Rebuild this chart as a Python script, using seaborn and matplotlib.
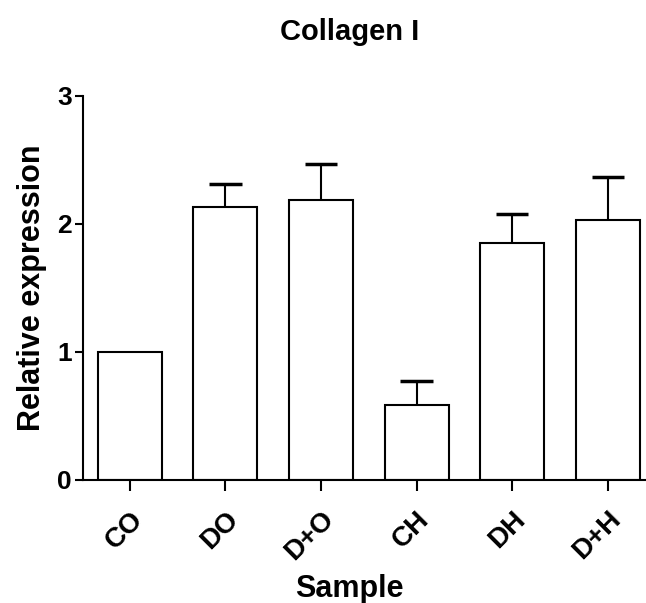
import matplotlib
matplotlib.use("Agg")
import matplotlib.pyplot as plt
import matplotlib.transforms as mtransforms
import seaborn as sns
import pandas as pd
import numpy as np

samples = ["CO", "DO", "D+O", "CH", "DH", "D+H"]
means = [1.0, 2.13, 2.19, 0.585, 1.85, 2.03]
errors = [0.0, 0.18, 0.28, 0.185, 0.23, 0.34]
yticks = [0, 1, 2, 3]

sns.set_style("ticks")
plt.rcParams['font.family'] = ['Liberation Sans', 'DejaVu Sans']
plt.rcParams['text.color'] = 'black'
plt.rcParams['axes.labelcolor'] = 'black'
plt.rcParams['xtick.color'] = 'black'
plt.rcParams['ytick.color'] = 'black'
plt.rcParams['axes.edgecolor'] = 'black'

df = pd.DataFrame({"Sample": samples, "Relative expression": means})

fig = plt.figure(figsize=(6.46, 6.03), dpi=100)
ax = fig.add_axes([0.1285, 0.204, 0.8715, 0.637])

sns.barplot(data=df, x="Sample", y="Relative expression", color="white",
            edgecolor="black", linewidth=1.5, width=0.67, errorbar=None, ax=ax)

xs = np.arange(len(samples))
means_a = np.array(means)
errs_a = np.array(errors)
has = errs_a > 0
tops = means_a + errs_a
ax.vlines(xs[has], means_a[has], tops[has], color="black", linewidth=1.5, zorder=1)
ax.hlines(tops[has], xs[has] - 0.17, xs[has] + 0.17, color="black", linewidth=2.5, zorder=1)

ax.set_ylim(0, 3)
ax.set_xlim(-0.49, 5.4)
ax.set_yticks(yticks)
ax.set_yticklabels([str(t) for t in yticks], fontsize=19, fontweight="bold")
ax.set_xticks(xs)
ax.set_xticklabels(samples, fontsize=20, fontweight="bold", rotation=45,
                   ha="right", rotation_mode="anchor")
offset = mtransforms.ScaledTranslation(12/72, 0, fig.dpi_scale_trans)
for lab in ax.get_xticklabels():
    lab.set_transform(lab.get_transform() + offset)
ax.set_xlabel("Sample", fontsize=22, fontweight="bold", labelpad=6, x=0.473)
ax.set_ylabel("Relative expression", fontsize=22, fontweight="bold", labelpad=7)
ax.set_title("Collagen I", fontsize=21, fontweight="bold", pad=40, x=0.473)

for s in ["top", "right"]:
    ax.spines[s].set_visible(False)
for s in ["left", "bottom"]:
    ax.spines[s].set_linewidth(1.5)
ax.tick_params(axis="y", width=1.5, length=6, pad=2)
ax.tick_params(axis="x", width=1.5, length=8, pad=11)

fig.savefig("out.png", dpi=100)
